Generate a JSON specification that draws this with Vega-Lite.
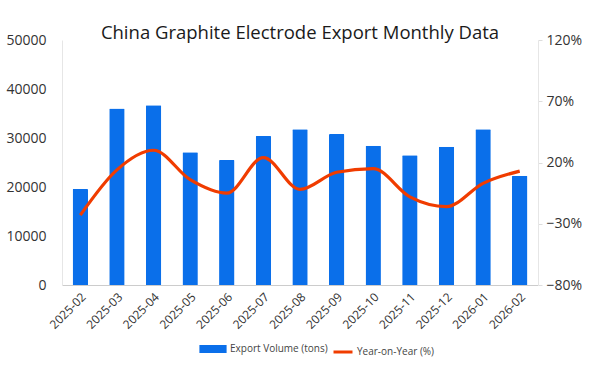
{
  "$schema": "https://vega.github.io/schema/vega-lite/v6.json",
  "autosize": {"type": "none"},
  "width": 476,
  "height": 245,
  "padding": {"left": 62, "top": 40, "right": 62, "bottom": 89},
  "background": "white",
  "title": {
    "text": "China Graphite Electrode Export Monthly Data",
    "font": "Open Sans",
    "fontSize": 18.5,
    "fontWeight": "normal",
    "color": "#1a1a1a",
    "anchor": "middle",
    "offset": -9
  },
  "config": {
    "view": {"stroke": null},
    "font": "Open Sans",
    "axis": {"grid": false, "domainColor": "#d9d9d9", "labelColor": "#333333", "labelFont": "Open Sans"},
    "legend": {"padding": 0}
  },
  "data": {
    "values": [
      {"month": "2025-02", "volume": 19600, "yoy": -23, "s1": "Export Volume (tons)", "s2": "Year-on-Year (%)"},
      {"month": "2025-03", "volume": 36000, "yoy": 14, "s1": "Export Volume (tons)", "s2": "Year-on-Year (%)"},
      {"month": "2025-04", "volume": 36700, "yoy": 30, "s1": "Export Volume (tons)", "s2": "Year-on-Year (%)"},
      {"month": "2025-05", "volume": 27100, "yoy": 6, "s1": "Export Volume (tons)", "s2": "Year-on-Year (%)"},
      {"month": "2025-06", "volume": 25500, "yoy": -5, "s1": "Export Volume (tons)", "s2": "Year-on-Year (%)"},
      {"month": "2025-07", "volume": 30400, "yoy": 24, "s1": "Export Volume (tons)", "s2": "Year-on-Year (%)"},
      {"month": "2025-08", "volume": 31800, "yoy": -2, "s1": "Export Volume (tons)", "s2": "Year-on-Year (%)"},
      {"month": "2025-09", "volume": 30800, "yoy": 12, "s1": "Export Volume (tons)", "s2": "Year-on-Year (%)"},
      {"month": "2025-10", "volume": 28400, "yoy": 15, "s1": "Export Volume (tons)", "s2": "Year-on-Year (%)"},
      {"month": "2025-11", "volume": 26500, "yoy": -8, "s1": "Export Volume (tons)", "s2": "Year-on-Year (%)"},
      {"month": "2025-12", "volume": 28200, "yoy": -16, "s1": "Export Volume (tons)", "s2": "Year-on-Year (%)"},
      {"month": "2026-01", "volume": 31800, "yoy": 3, "s1": "Export Volume (tons)", "s2": "Year-on-Year (%)"},
      {"month": "2026-02", "volume": 22300, "yoy": 13, "s1": "Export Volume (tons)", "s2": "Year-on-Year (%)"}
    ]
  },
  "encoding": {
    "x": {
      "field": "month",
      "type": "ordinal",
      "title": null,
      "scale": {"paddingInner": 0.58, "paddingOuter": 0.29},
      "axis": {"labelAngle": -45, "labelFontSize": 12, "ticks": false, "labelPadding": 6, "domainColor": "#cccccc"}
    }
  },
  "layer": [
    {
      "mark": {"type": "bar", "cornerRadiusTopLeft": 1, "cornerRadiusTopRight": 1},
      "encoding": {
        "y": {
          "field": "volume",
          "type": "quantitative",
          "title": null,
          "scale": {"domain": [0, 50000], "nice": false},
          "axis": {"values": [0, 10000, 20000, 30000, 40000, 50000], "format": "d", "labelFontSize": 14, "ticks": false, "labelPadding": 16, "domainColor": "#e6e6e6", "labelColor": "#333333"}
        },
        "fill": {
          "field": "s1",
          "type": "nominal",
          "scale": {"range": ["#0a6fea"]},
          "legend": {"title": null, "orient": "none", "legendX": 143, "legendY": 301, "symbolType": "M-1.7,-0.5H1.7V0.5H-1.7Z", "symbolSize": 256, "labelFontSize": 10, "labelColor": "#444444", "symbolStrokeWidth": 0, "labelOffset": 9}
        }
      }
    },
    {
      "mark": {"type": "line", "interpolate": "monotone", "strokeWidth": 3.2},
      "encoding": {
        "y": {
          "field": "yoy",
          "type": "quantitative",
          "title": null,
          "scale": {"domain": [-80, 120], "nice": false},
          "axis": {"orient": "right", "values": [-80, -30, 20, 70, 120], "labelExpr": "replace(datum.value + '%', '-', '\u2212')", "labelFontSize": 14, "tickSize": 4, "tickColor": "#dddddd", "labelPadding": 4, "domainColor": "#e6e6e6", "labelColor": "#333333"}
        },
        "stroke": {
          "field": "s2",
          "type": "nominal",
          "scale": {"range": ["#f03c00"]},
          "legend": {"title": null, "orient": "none", "legendX": 270, "legendY": 301, "symbolType": "stroke", "symbolStrokeWidth": 3, "symbolSize": 361, "labelFontSize": 10, "labelColor": "#444444", "labelOffset": 3}
        }
      }
    }
  ],
  "resolve": {"scale": {"y": "independent"}}
}
